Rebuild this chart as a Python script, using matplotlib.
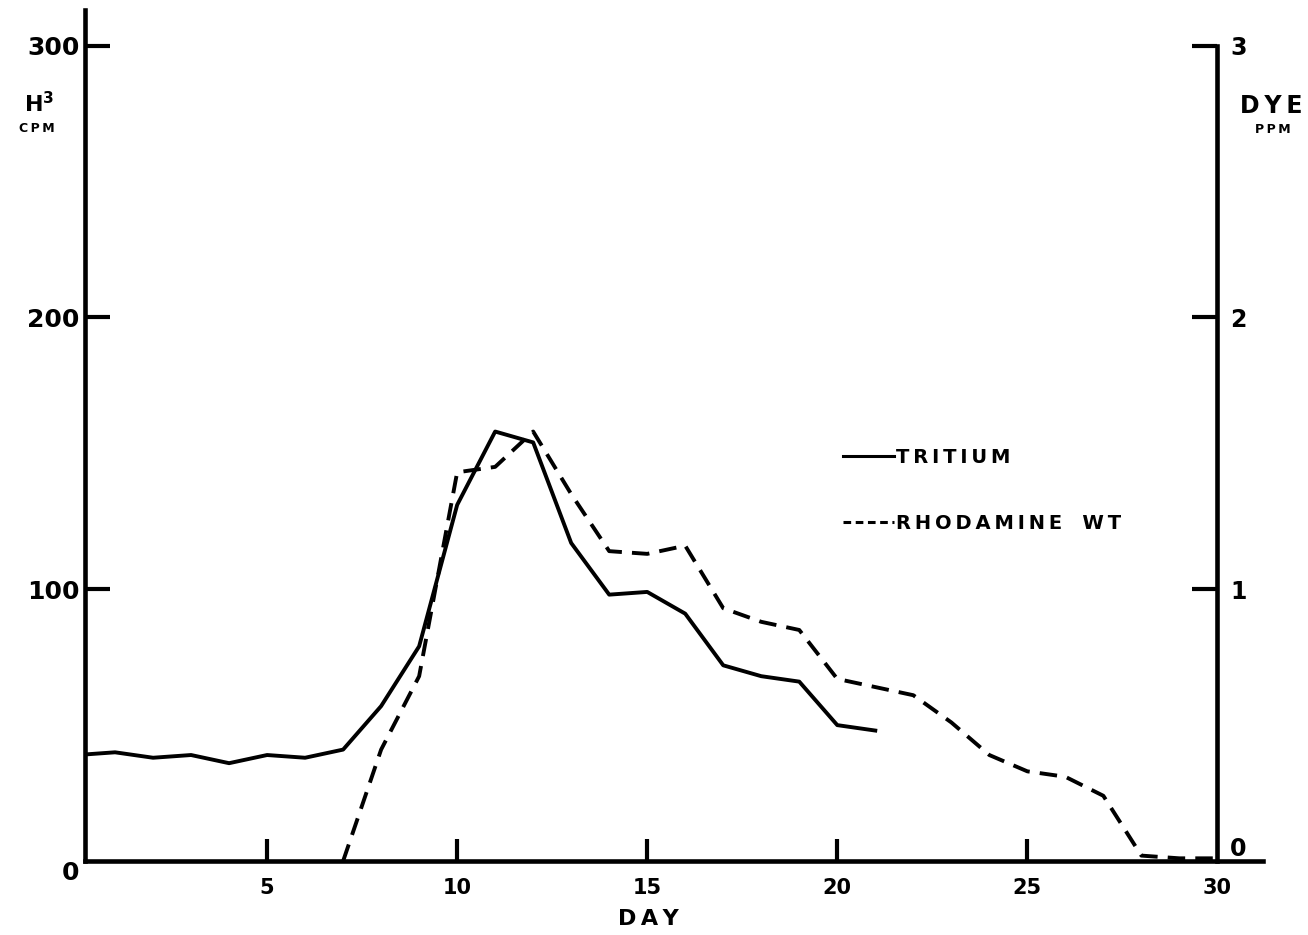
import matplotlib
matplotlib.use("Agg")
import matplotlib.pyplot as plt
from matplotlib.lines import Line2D

# data
days_tritium = list(range(0, 22))
tritium_cpm = [39, 40, 38, 39, 36, 39, 38, 41, 57, 79, 131, 158, 154, 117,
               98, 99, 91, 72, 68, 66, 50, 48]
days_dye = list(range(7, 31))
dye_ppm = [0.0, 0.41, 0.68, 1.43, 1.45, 1.58, 1.35, 1.14, 1.13, 1.16, 0.93,
           0.88, 0.85, 0.67, 0.64, 0.61, 0.51, 0.39, 0.33, 0.31, 0.24, 0.02,
           0.01, 0.01]
x_ticks = [5, 10, 15, 20, 25, 30]
left_ticks = [0, 100, 200, 300]
right_ticks = [0, 1, 2, 3]

plt.rcParams['font.family'] = ['DejaVu Sans']
plt.rcParams['font.weight'] = 'bold'

def spaced(s):
    # wide letter spacing like the typed original
    return '\u2009'.join(s)

fig = plt.figure(figsize=(13.08, 9.35), dpi=100)
ax = fig.add_axes([0.065, 0.0791, 0.9006, 0.910])
x0, x1 = 0.21, 31.2
ax.set_xlim(x0, x1)
ax.set_ylim(0, 313)

lw = 2.8
ax.plot(days_tritium, tritium_cpm, color='black', lw=lw)

ax2 = ax.twinx()
ax2.set_ylim(0, 3.13)
ax2.plot(days_dye, dye_ppm, color='black', lw=lw, dashes=(4.5, 2.6))

# spines
for s in ['top', 'right']:
    ax.spines[s].set_visible(False)
for s in ['top', 'left', 'bottom']:
    ax2.spines[s].set_visible(False)
ax.spines['left'].set_linewidth(3.3)
ax.spines['bottom'].set_linewidth(3.3)
ax2.spines['right'].set_linewidth(3.3)
ax2.spines['right'].set_position(('axes', (30 - x0) / (x1 - x0)))
ax2.spines['right'].set_bounds(0, 3)

# ticks
ax.set_xticks(x_ticks)
ax.set_xticklabels([str(t) for t in x_ticks])
ax.tick_params(axis='x', direction='in', length=16, width=3, pad=12,
               labelsize=15)
ax.xaxis.get_major_ticks()[-1].tick1line.set_visible(False)
ax.set_yticks(left_ticks)
ax.set_yticklabels([str(t) for t in left_ticks])
ax.tick_params(axis='y', direction='in', length=18, width=3, pad=4,
               labelsize=18)
ax.get_yticklabels()[0].set_verticalalignment('top')
ax.yaxis.get_major_ticks()[0].tick1line.set_visible(False)

ax2.set_yticks(right_ticks)
ax2.set_yticklabels([str(t) for t in right_ticks])
ax2.tick_params(axis='y', direction='in', length=18, width=3, pad=9,
                labelsize=17)
ax2.get_yticklabels()[0].set_verticalalignment('bottom')
ax2.yaxis.get_major_ticks()[0].tick2line.set_visible(False)

# axis titles
ax.set_xlabel(spaced('DAY'), fontsize=16, fontweight='bold', labelpad=4)
ax.xaxis.set_label_coords(0.478, -0.056)
fig.text(0.030, 0.889, 'H$^{3}$', fontsize=16, fontweight='bold',
         ha='center', va='center')
fig.text(0.028, 0.863, spaced('CPM'), fontsize=9, fontweight='bold',
         ha='center', va='center')
fig.text(0.972, 0.887, spaced('DYE'), fontsize=17, fontweight='bold',
         ha='center', va='center')
fig.text(0.973, 0.861, spaced('PPM'), fontsize=9, fontweight='bold',
         ha='center', va='center')

# legend
handles = [Line2D([], [], color='black', lw=2.2),
           Line2D([], [], color='black', lw=2.2, dashes=(2.5, 1.5))]
ax.legend(handles, [spaced('TRITIUM'), spaced('RHODAMINE') + '   ' + spaced('WT')],
          loc='upper left', bbox_to_anchor=(0.629, 0.506), frameon=False,
          handlelength=2.6, handletextpad=0.1, labelspacing=2.4,
          prop={'weight': 'bold', 'size': 14})

fig.savefig('out.png', dpi=100)
